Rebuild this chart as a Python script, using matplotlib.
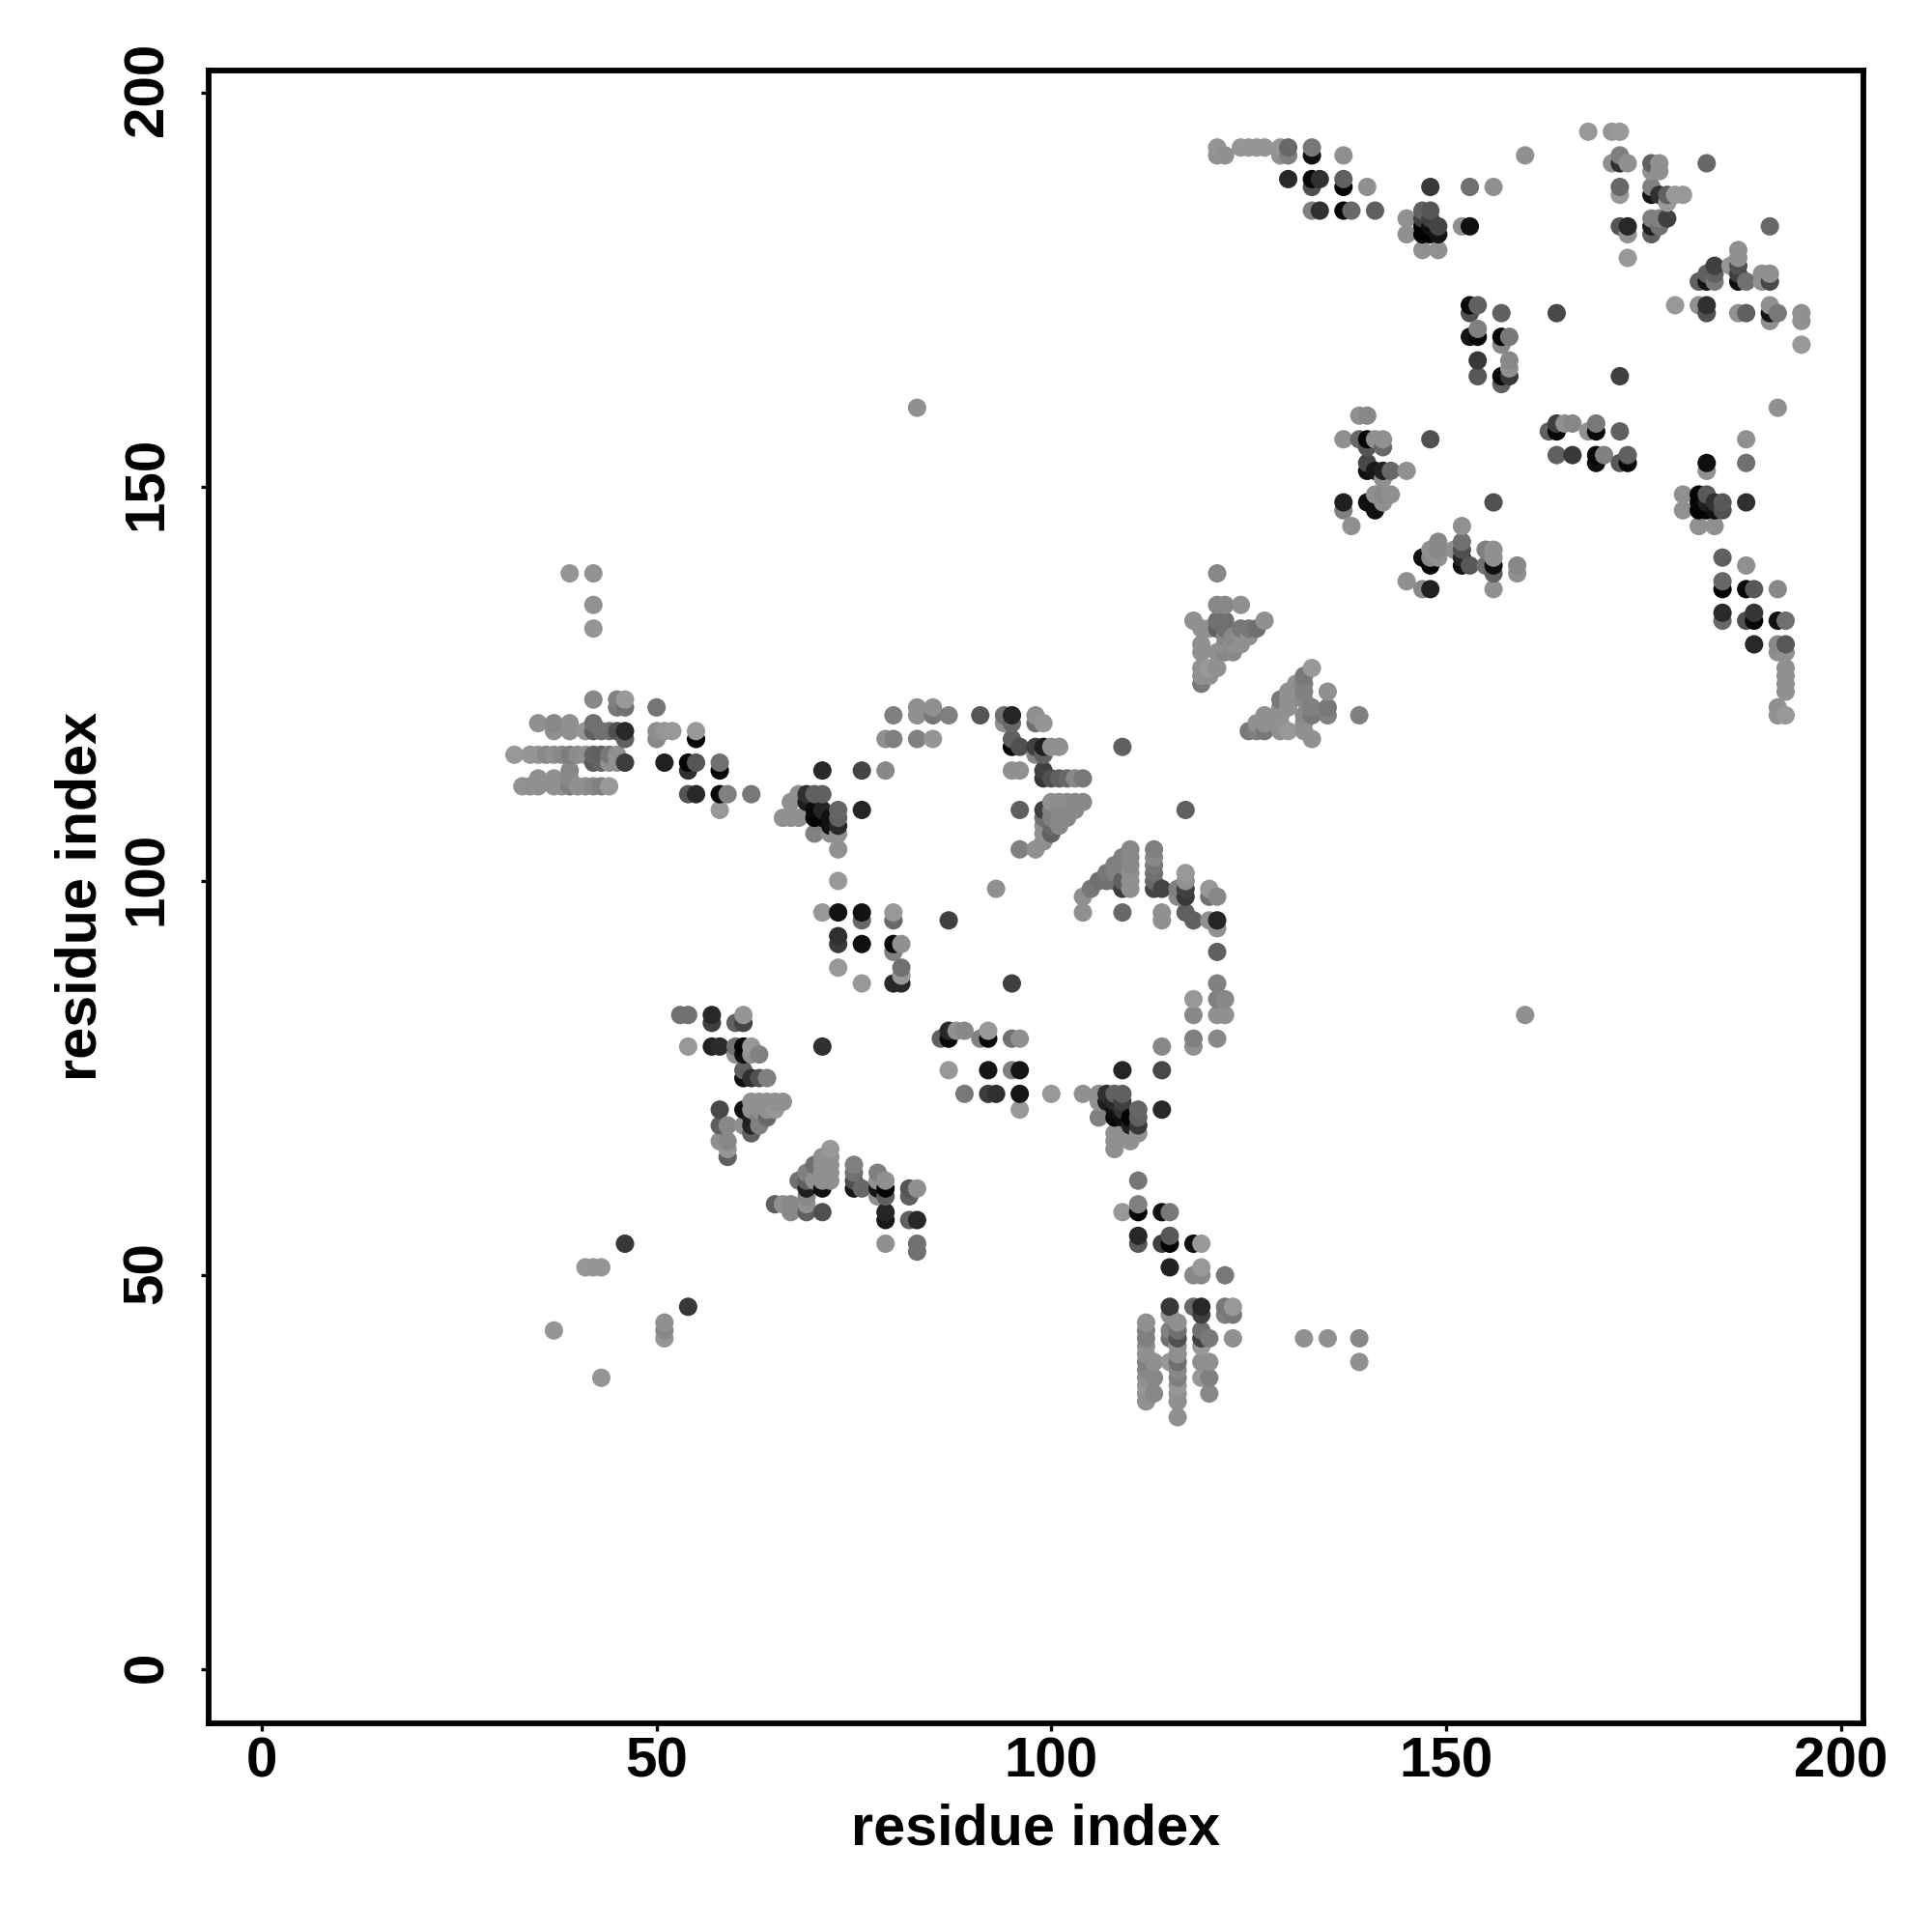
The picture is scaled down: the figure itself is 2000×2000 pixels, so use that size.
import numpy as np
import matplotlib
matplotlib.use('Agg')
import matplotlib.pyplot as plt
from matplotlib.transforms import ScaledTranslation

# contacts, one group of x / y / grey level per cluster
x_left = [39,42,42,42, 42,45,46,45,46,50, 35,37,39,42,
          37,39,41,42,43,44,45,46,50,51,52,55, 46,50,55,
          32,34,35,36,37,38,39,40,41,42,43,44,45,
          42,43,44,45,46,51,54,55,58, 39,54,58, 35,37,39,
          33,34,35,37,38,39,40,41,42,43,44, 54,55,58,59,62, 58]
y_left = [139,139,135,132, 123,123,123,122,122,122, 120,120,120,120,
          119,119,119,119,119,119,119,119,119,119,119,119, 118,118,118,
          116,116,116,116,116,116,116,116,116,116,116,116,116,
          115,115,115,115,115,115,115,115,115, 114,114,114, 113,113,113,
          112,112,112,112,112,112,112,112,112,112,112, 111,111,111,111,111, 109]
g_left = [149,146,146,149, 136,128,153,120,112,117, 144,136,144,112,
          144,144,149,96,112,112,80,40,143,149,152,152, 96,136,5,
          152,149,149,136,144,136,125,140,144,100,96,120,144,
          90,100,144,144,60,32,5,85,112, 136,48,5, 144,144,136,
          146,144,144,144,144,128,144,144,136,128,152, 85,40,8,128,120, 152]

x_mid1 = [66,67,68,67,68,69,70,71, 71,76,79, 76,69,70,71,71,70,72,72,73,73,73,70,72,73,73,73,
          71,73,76,76,80,80,87, 80,83,83,85,85,87,79,80,83,85,
          73,73,76,81,81,80,80,81,76,73,80,81,95,93]
y_mid1 = [108,108,108,110,111,111,111,111, 114,114,114, 109,110,109,109,108,108,108,107,109,108,107,106,106,106,104,100,
          96,96,96,95,96,95,95, 121,122,121,122,121,121,118,118,118,118,
          93,92,92,92,89,92,91,88,87,89,87,87,87,99]
g_mid1 = [144,144,144,144,144,48,96,96, 40,69,136, 37,30,10,37,5,0,16,16,101,96,40,128,144,144,144,152,
          152,18,18,104,152,104,64, 128,144,144,144,120,128,144,128,128,149,
          48,60,16,144,112,8,128,152,152,152,40,40,64,144]

x_top = [95,94,95,94,95,98,98,99,91, 95,95,96,98,99,100,101,98,99,109,
         95,96,99,99,100,101,102,103,104, 100,101,102,103,104,96,99,100,101,102,103,
         99,100,101,102,99,100,101,99,100,99,96,98,117]
y_top = [121,121,121,120,120,121,120,120,121, 118,117,117,117,117,117,117,116,116,117,
         114,114,114,113,113,113,113,113,113, 110,110,110,110,110,109,109,109,109,109,109,
         108,108,108,108,107,107,107,106,106,105,104,104,109]
g_top = [112,112,37,144,104,144,112,149,85, 96,5,80,64,32,144,144,133,96,96,
         144,144,64,53,80,96,104,136,120, 144,140,140,136,136,96,64,128,136,136,136,
         112,128,136,136,144,104,136,144,96,144,128,144,96]

x_tri1 = [121,121,122,124,118,127,121,122,119,120,121,122,124,125,126,
          125,122,123,124,119,122,123,124,119,121,122,123,121,119,120,119,120,119]
y_tri1 = [139,135,135,135,133,133,133,133,132,132,132,132,132,132,132,
          131,131,131,131,130,130,130,130,129,129,129,129,127,127,127,126,126,125]
g_tri1 = [136,136,136,144,144,144,112,112,144,144,96,112,120,120,112,
          144,136,136,144,144,144,144,144,144,144,136,136,144,144,152,144,144,120]

x_tri2 = [133,132,132,131,130,132,135,129,130,132,133,135,129,130,127,129,132,133,135,139,
          126,127,129,132,125,126,127,129,130,132,133]
y_tri2 = [127,126,125,125,124,124,124,123,123,123,122,122,122,122,121,121,121,121,121,121,
          120,120,120,120,119,119,119,119,119,119,118]
g_tri2 = [152,120,128,144,144,128,144,120,144,136,128,120,144,144,144,144,136,120,128,128,
          144,144,144,144,120,128,120,144,152,144,144]

x_diag = [110,110,110,110,110,110,109,109,109,109,108,108,108,107,107,106,105,104,104,109,
          113,113,113,113,113,113,114,114,114,116,116,117,117,117,117,117,118,
          120,120,121,121,120,121, 121,121,118,121,122,118,121,122,118,118,121,114]
y_diag = [104,103,102,101,100,99,103,102,100,99,102,101,100,101,100,100,99,98,96,96,
          104,103,102,101,100,99,99,96,95,99,98,101,100,99,98,96,95,
          99,98,98,95,95,94, 91,87,85,85,85,83,83,83,80,79,80,79]
g_diag = [136,136,136,144,144,144,128,128,96,60,128,128,112,120,112,112,120,144,144,104,
          128,136,120,112,104,69,69,144,144,128,136,152,144,64,56,96,96,
          152,112,136,37,144,144, 96,128,152,128,136,136,144,144,128,144,136,136]

x_clu3 = [114,109,114,104,106,106,107,108,109,106,107,108,108,108,109,109,109,110,110,
          111,111,111,111,110,110,108,108,108]
y_clu3 = [76,76,71,73,73,72,73,73,73,70,72,72,71,70,72,71,70,70,69,
          71,70,69,68,68,67,68,67,66]
g_clu3 = [72,37,40,144,144,144,48,96,96,128,32,40,16,5,64,50,16,5,32,
          101,96,56,144,144,144,144,144,144]

x_row8 = [86,87,87,88,89,92,92,91,95,96,87,92,95,96,89,92,93,96,96,100]
y_row8 = [80,80,81,81,81,81,80,80,80,80,76,76,76,76,73,73,73,73,71,73]
g_row8 = [96,8,40,144,136,152,8,128,112,144,152,21,128,21,120,60,48,21,152,152]

x_low = [53,54,57,57,60,61,61,54,57,58,60,60,61,61,62,62,63,61,61,62,63,64,71,
         62,63,64,65,66,58,61,62,63,64,65,58,59,61,62,62,63,63,64,62,58,59,59,59,
         46,54,51,51,51,37,43,41,42,43]
y_low = [83,83,83,82,82,83,82,79,79,79,79,78,79,78,79,78,78,76,75,75,75,75,79,
         72,72,72,72,72,71,71,71,71,71,71,69,69,69,70,69,70,69,70,68,67,67,66,65,
         54,46,44,43,42,43,37,51,51,51]
g_low = [112,112,40,64,96,149,69,152,34,44,112,144,5,16,152,144,128,96,16,48,80,128,48,
         144,144,144,144,144,72,16,144,144,144,152,96,136,144,32,37,128,128,104,96,144,136,149,96,
         56,56,144,136,149,149,149,149,149,149]

x_tri3 = [72,71,72,70,71,72,69,71,72,68,69,70,71,72,69,71,69,75,75,75,75,76,
          78,78,78,78,79,79,79,79,79,82,82,83,82,83,79,83,83,
          65,66,67,69,67,69,71]
y_tri3 = [66,65,65,64,64,64,63,63,63,62,62,62,62,62,61,61,60,64,63,62,61,61,
          63,62,61,60,62,61,60,58,57,61,60,61,57,57,54,54,53,
          59,59,59,59,58,58,58]
g_tri3 = [152,144,144,112,144,144,128,144,144,112,96,144,144,144,32,16,136,128,112,80,24,104,
          128,144,21,144,144,5,96,37,24,85,96,144,96,40,144,112,112,
          96,144,136,144,136,96,80]

x_bot = [111,111,111,109,114,115,111,111,114,115,115,118,119,115,119,118,119,122,
         115,118,119,122,123,122,123,119,115,116,112,112,115,116,119,
         112,115,116,119,120,123,132,135,139, 112,116,119,112,116,
         112,113,115,116,119,120,139,112,116,112,113,116,119,120,112,116,112,113,116,120,112,116,116]
y_bot = [62,59,58,58,58,58,55,54,54,55,54,54,54,51,51,50,50,50,
         46,46,46,46,46,45,45,45,45,44,44,43,43,43,43,
         42,42,42,42,42,42,42,42,42, 41,41,41,40,40,
         39,39,39,39,39,39,39,38,38,37,37,37,37,37,36,36,35,35,35,35,34,34,32]
g_bot = [117,128,5,152,16,120,40,88,64,88,5,16,152,34,152,136,136,120,
         56,104,40,120,152,128,120,64,144,144,144,128,128,112,112,
         128,112,80,64,120,144,144,144,136, 144,144,152,144,144,
         128,144,152,112,144,144,144,136,136,144,136,128,152,128,152,152,144,136,144,136,144,144,144]

x_ne1 = [121,121,122,124,125,126,127,129,130,129,130,133,133,137,160,
         130,133,134,137,133,137,140,148,153,156,133,134,137,138,141]
y_ne1 = [193,192,192,193,193,193,193,193,193,192,192,193,192,192,192,
         189,189,189,189,188,188,188,188,188,188,185,185,185,185,185]
g_ne1 = [149,144,144,149,149,149,149,149,104,144,128,120,16,144,144,
         40,8,48,96,80,5,144,56,112,144,128,48,8,104,96]

x_clu1 = [145,145,147,148,147,148,147,148,149,147,148,149,147,149,152,153]
y_clu1 = [184,182,185,185,184,184,183,183,183,182,182,182,180,180,183,183]
g_clu1 = [144,144,96,85,64,64,0,16,69,0,0,21,144,144,144,16]

x_ne2 = [168,171,172,172,171,172,173,176,177,177,176,183,172,172,176,176,177,178,179,180,178,
         176,177,178,172,173,176,177,191,173,176,173,
         187,187,184,187,186,183,184,187,190,191,182,183,184,187,188,190,191,
         179,182,183,183,187,188,191,191,192,191,195,195,195]
y_ne2 = [195,195,195,192,191,191,191,191,191,190,190,191,188,187,188,187,187,187,187,187,186,
         184,184,184,183,183,183,183,183,182,182,179,
         180,179,178,178,178,177,177,177,177,177,176,176,176,176,176,176,176,
         173,173,173,172,172,172,173,172,172,171,172,171,168]
g_ne2 = [152,149,152,128,144,48,144,96,144,144,144,104,104,152,128,21,48,96,152,152,152,
         128,128,64,85,40,32,112,104,144,96,152,
         144,144,64,80,149,96,96,64,144,144,96,21,120,16,112,144,72,
         152,144,48,80,144,96,144,21,120,144,144,144,152]

x_ctr = [153,154,153,157,164,154,153,154,157,158,157,154,158,158,154,157,158,157,172]
y_ctr = [173,173,172,172,172,170,169,169,169,169,168,166,166,165,164,164,164,163,164]
g_ctr = [8,96,80,96,72,128,21,8,8,120,136,56,136,144,88,8,56,96,64]

x_e1 = [139,140,192,137,139,140,141,142,148,142,140,140,183,188,188,
        140,141,142,143,145,183,142,141,142,143,137,140,142,156,188,137,141,138]
y_e1 = [159,159,160,156,156,156,156,156,156,155,155,153,153,153,156,
        152,152,152,152,152,152,151,149,149,149,148,148,148,148,148,147,147,145]
g_e1 = [144,136,144,144,104,5,144,144,80,104,85,72,16,112,144,
        16,24,32,104,144,144,144,144,136,144,32,16,144,80,48,128,16,144]

x_clu2 = [180,180,182,183,182,183,182,183,184,185,184,185,182,184]
y_clu2 = [149,147,149,149,148,148,147,147,148,148,147,147,145,145]
g_clu2 = [144,144,5,88,5,32,0,5,48,88,16,80,144,144]

x_e2 = [164,163,164,165,166,168,169,169,172,164,166,169,170,173,169,172,173]
y_e2 = [158,157,157,158,158,157,158,157,157,154,154,154,154,154,153,153,153]
g_e2 = [64,96,5,144,136,144,120,8,96,96,56,8,128,96,16,88,8]

x_e3 = [152,149,152,148,149,151,152,155,156,147,148,149,152,156,148,152,153,155,156,159,159,
        156,145,147,148,156]
y_e3 = [145,143,143,142,142,142,142,142,142,141,141,141,141,141,140,140,140,140,140,140,139,
        139,138,137,137,137]
g_e3 = [144,136,112,144,136,144,80,128,144,16,136,144,37,144,5,16,88,112,16,136,144,
        96,144,136,34,144]

x_e4 = [185,188,185,185,188,189,192,185,185,188,189,189,192,193,189,192,193,192,193,
        193,193,193,193,192,192,193]
y_e4 = [141,140,138,137,137,137,137,134,133,133,134,133,133,133,130,130,130,129,129,
        127,126,125,124,122,121,121]
g_e4 = [96,144,104,5,8,88,136,42,104,80,53,8,16,112,40,136,88,144,144,
        144,144,144,144,144,144,152]

# two stray points on the far side of the diagonal
x_far = [83,160]
y_far = [160,83]
g_far = [144,144]

xs = [x_left,x_mid1,x_top,x_tri1,x_tri2,x_diag,x_clu3,x_row8,x_low,x_tri3,x_bot,x_ne1,x_clu1,x_ne2,x_ctr,x_e1,x_clu2,x_e2,x_e3,x_e4,x_far]
ys = [y_left,y_mid1,y_top,y_tri1,y_tri2,y_diag,y_clu3,y_row8,y_low,y_tri3,y_bot,y_ne1,y_clu1,y_ne2,y_ctr,y_e1,y_clu2,y_e2,y_e3,y_e4,y_far]
gs = [g_left,g_mid1,g_top,g_tri1,g_tri2,g_diag,g_clu3,g_row8,g_low,g_tri3,g_bot,g_ne1,g_clu1,g_ne2,g_ctr,g_e1,g_clu2,g_e2,g_e3,g_e4,g_far]

x = np.concatenate(xs)
y = np.concatenate(ys)
g = np.concatenate(gs)

# points seem to be drawn by increasing x then y
order = np.lexsort((y, x))
x, y, g = x[order], y[order], g[order]

plt.rcParams['font.family'] = ['Liberation Sans', 'DejaVu Sans']
plt.rcParams['font.weight'] = 'bold'

fig = plt.figure(figsize=(10, 10), dpi=200)
ax = fig.add_axes([216.3/2000, 1-1784/2000, (1928.6-216.3)/2000, (1784-72.7)/2000])
ax.scatter(x, y, s=47, c=np.stack([g, g, g], axis=1)/255, linewidths=0)
ax.set_xlim(-6.69, 202.8)
ax.set_ylim(-6.82, 202.8)
ax.set_xticks([0, 50, 100, 150, 200])
ax.set_yticks([0, 50, 100, 150, 200])
ax.tick_params(length=3, width=1.2, labelsize=21)
ax.tick_params(axis='x', pad=2)
ax.tick_params(axis='y', pad=10)
up = ScaledTranslation(0, 3/200, fig.dpi_scale_trans)
for t in ax.get_yticklabels():
    t.set_rotation(90)
    t.set_va('center')
    t.set_transform(t.get_transform() + up)
for s in ax.spines.values():
    s.set_linewidth(2.1)
ax.set_xlabel('residue index', fontsize=21.4, fontweight='bold')
ax.set_ylabel('residue index', fontsize=21.4, fontweight='bold')
ax.xaxis.set_label_coords(0.5, -0.048)
ax.yaxis.set_label_coords(-0.061, 0.5)
fig.savefig('out.png', dpi=200)
